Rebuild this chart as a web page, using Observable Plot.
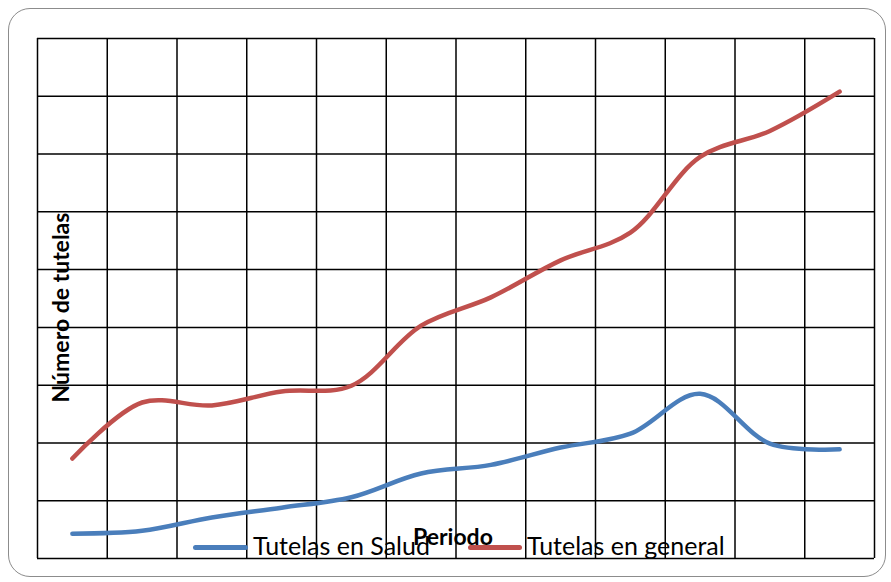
<!DOCTYPE html>
<html>
<head>
<meta charset="utf-8">
<script src="https://cdn.jsdelivr.net/npm/d3@7"></script>
<script src="https://cdn.jsdelivr.net/npm/@observablehq/plot@0.6"></script>
<style>
  html, body { margin: 0; padding: 0; background: #fff; }
  #wrap { position: relative; width: 891px; height: 582px; overflow: hidden; font-family: Lato, "Open Sans", sans-serif; }
  #border { position: absolute; left: 8px; top: 8px; width: 878px; height: 569px; border: 1.5px solid #8c8c8c; border-radius: 22px; box-sizing: border-box; }
  #chart { position: absolute; left: 0; top: 0; }
  .leg { position: absolute; font-size: 25px; color: #000; white-space: nowrap; line-height: 1; }
  .sw { position: absolute; height: 5px; border-radius: 3px; }
  .xlab { position: absolute; font-weight: bold; font-size: 23px; line-height: 1; white-space: nowrap; }
  .ylab { position: absolute; font-weight: bold; font-size: 23px; line-height: 1; transform: rotate(-90deg); transform-origin: center; white-space: nowrap; }
</style>
</head>
<body>
<div id="wrap">
  <div id="border"></div>
  <div id="chart"></div>
</div>
<script>
// Data (grid units; each horizontal grid band = 1 unit)
const periods = [1, 2, 3, 4, 5, 6, 7, 8, 9, 10, 11, 12];
const salud   = [0.43, 0.48, 0.71, 0.88, 1.06, 1.47, 1.62, 1.92, 2.16, 2.85, 1.99, 1.89];
const general = [1.73, 2.70, 2.65, 2.89, 2.99, 4.03, 4.52, 5.16, 5.64, 6.95, 7.40, 8.08];
const seriesNames = ["Tutelas en Salud", "Tutelas en general"];
const colors = ["#4A7EBB", "#C0504D"];
const yLabel = "Número de tutelas";
const xLabel = "Periodo";

const rows = [];
periods.forEach((p, i) => {
  rows.push({period: p, value: salud[i], serie: seriesNames[0]});
  rows.push({period: p, value: general[i], serie: seriesNames[1]});
});

const xGrid = d3.range(periods.length + 1).map(i => i + 0.5);
const yGrid = d3.range(0, 10);

const chart = Plot.plot({
  width: 891,
  height: 582,
  marginLeft: 37,
  marginRight: 17,
  marginTop: 38,
  marginBottom: 24,
  x: {domain: [0.5, periods.length + 0.5], axis: null},
  y: {domain: [0, 9], axis: null},
  color: {domain: seriesNames, range: colors},
  marks: [
    Plot.ruleX(xGrid, {stroke: "#000", strokeWidth: 1.5}),
    Plot.ruleY(yGrid, {stroke: "#000", strokeWidth: 1.5}),
    Plot.line(rows, {x: "period", y: "value", z: "serie", stroke: "serie", strokeWidth: 4.5, curve: "catmull-rom", strokeLinecap: "round", strokeLinejoin: "round"})
  ]
});
document.getElementById("chart").appendChild(chart);

// Legend and axis titles as overlay text
const wrap = document.getElementById("wrap");
function add(cls, text, style) {
  const d = document.createElement("div");
  d.className = cls;
  if (text) d.textContent = text;
  Object.assign(d.style, style);
  wrap.appendChild(d);
  return d;
}
add("sw", "", {left: "193px", top: "545px", width: "55px", background: colors[0]});
add("leg", seriesNames[0], {left: "253px", top: "533px"});
add("sw", "", {left: "468px", top: "545px", width: "54px", background: colors[1]});
add("leg", seriesNames[1], {left: "527px", top: "533px"});
add("xlab", xLabel, {left: "413px", top: "525px"});
const yl = add("ylab", yLabel, {});
const bw = yl.offsetWidth, bh = yl.offsetHeight;
yl.style.left = (61 - bw / 2) + "px";
yl.style.top = (307 - bh / 2) + "px";
</script>
</body>
</html>
